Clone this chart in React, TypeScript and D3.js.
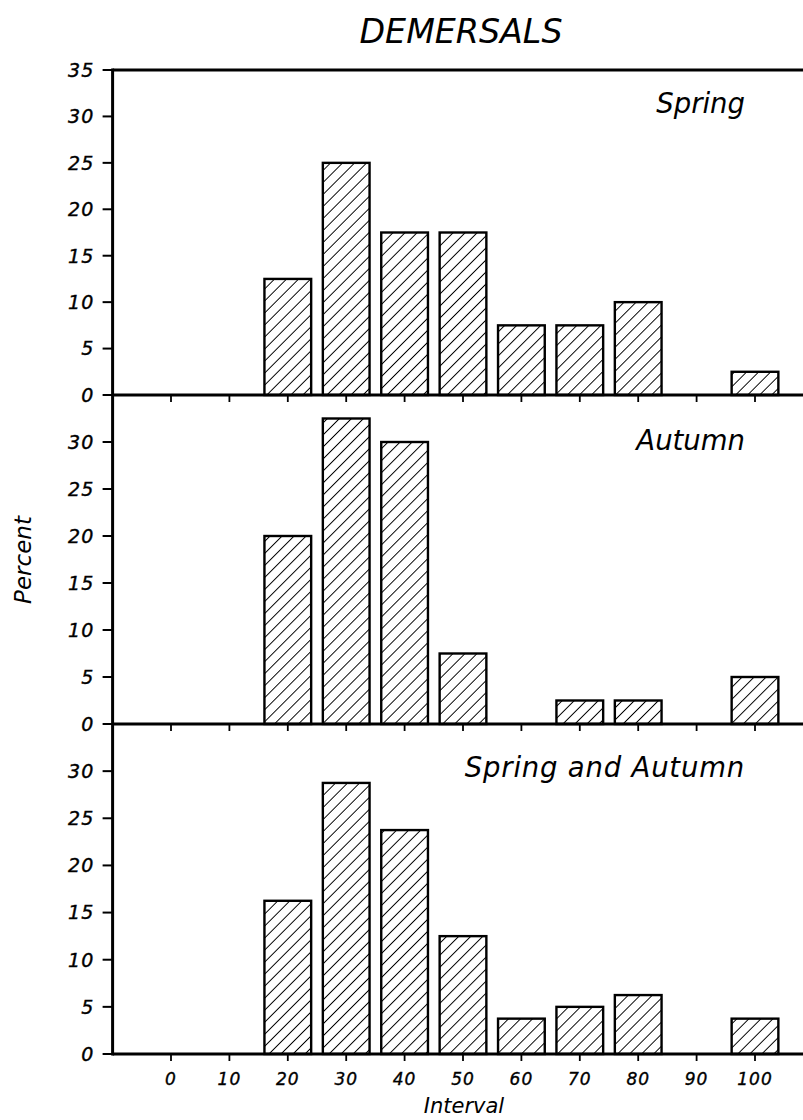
import React from "react";
import * as d3 from "d3";

const categories = [20, 30, 40, 50, 60, 70, 80, 90, 100];
const springValues = [12.5, 25, 17.5, 17.5, 7.5, 7.5, 10, 0, 2.5];
const autumnValues = [20, 32.5, 30, 7.5, 0, 2.5, 2.5, 0, 5];
const bothValues = [16.25, 28.75, 23.75, 12.5, 3.75, 5, 6.25, 0, 3.75];
const panelLabels = ["Spring", "Autumn", "Spring and Autumn"];
const xTicks = [0, 10, 20, 30, 40, 50, 60, 70, 80, 90, 100];
const yTicksTop = [0, 5, 10, 15, 20, 25, 30, 35];
const yTicksOther = [0, 5, 10, 15, 20, 25, 30];

const W = 803;
const H = 1120;
const FONT = "'DejaVu Sans', 'Liberation Sans', sans-serif";

export default function App() {
  const x = d3.scaleLinear().domain([-10, 110]).range([112.6, 813.4]);
  const barW = x(8) - x(0);
  const panels = [
    { values: springValues, top: 70, bottom: 395, ticks: yTicksTop, label: panelLabels[0], labelY: 113 },
    { values: autumnValues, top: 395, bottom: 724, ticks: yTicksOther, label: panelLabels[1], labelY: 450 },
    { values: bothValues, top: 724, bottom: 1054, ticks: yTicksOther, label: panelLabels[2], labelY: 777 },
  ];
  const left = x(-10);
  return (
    <svg
      width={W}
      height={H}
      style={{ position: "absolute", left: 0, top: 0, background: "#fff" }}
      fontFamily={FONT}
    >
      <defs>
        <pattern id="hatch" patternUnits="userSpaceOnUse" width="8.5" height="8.5" patternTransform="rotate(45)">
          <rect x="0" y="0" width="8.5" height="8.5" fill="#fff" />
          <line x1="0" y1="0" x2="0" y2="8.5" stroke="#000" strokeWidth="1.9" />
        </pattern>
      </defs>
      <text x={461} y={43} textAnchor="middle" fontSize={33} fontStyle="italic" textLength={203} lengthAdjust="spacingAndGlyphs">
        DEMERSALS
      </text>
      {panels.map((p, pi) => {
        const y = d3.scaleLinear().domain([0, 35]).range([p.bottom, p.top]);
        return (
          <g key={pi}>
            {p.values.map((v, i) =>
              v > 0 ? (
                <rect
                  key={i}
                  x={x(categories[i]) - barW / 2}
                  y={y(v)}
                  width={barW}
                  height={y(0) - y(v)}
                  fill="url(#hatch)"
                  stroke="#000"
                  strokeWidth={2.4}
                />
              ) : null
            )}
            <line x1={left} x2={W} y1={y(0)} y2={y(0)} stroke="#000" strokeWidth={3} />
            {xTicks.map((t) => (
              <line key={t} x1={x(t)} x2={x(t)} y1={y(0)} y2={y(0) + 7} stroke="#000" strokeWidth={1.8} />
            ))}
            {p.ticks.map((t) => (
              <g key={t}>
                <line x1={left - 10} x2={left} y1={y(t)} y2={y(t)} stroke="#000" strokeWidth={2} />
                <text
                  x={left - 18}
                  y={y(t)}
                  dy="0.36em"
                  textAnchor="end"
                  fontSize={19}
                  fontStyle="italic"
                  letterSpacing={1.2}
                  stroke="#000"
                  strokeWidth={0.4}
                >
                  {t}
                </text>
              </g>
            ))}
            <text x={745} y={p.labelY} textAnchor="end" fontSize={27.5} fontStyle="italic" letterSpacing={pi === 2 ? 0.8 : 0}>
              {p.label}
            </text>
          </g>
        );
      })}
      <line x1={left} x2={W} y1={70} y2={70} stroke="#000" strokeWidth={3} />
      <line x1={left} x2={left} y1={68.5} y2={1055.5} stroke="#000" strokeWidth={3} />
      {xTicks.map((t) => (
        <text key={t} x={x(t)} y={1085} textAnchor="middle" fontSize={17} fontStyle="italic" letterSpacing={1} stroke="#000" strokeWidth={0.35}>
          {t}
        </text>
      ))}
      <text x={464} y={1113} textAnchor="middle" fontSize={21} fontStyle="italic">
        Interval
      </text>
      <text
        transform="translate(31,560) rotate(-90)"
        textAnchor="middle"
        fontSize={23}
        fontStyle="italic"
      >
        Percent
      </text>
    </svg>
  );
}
